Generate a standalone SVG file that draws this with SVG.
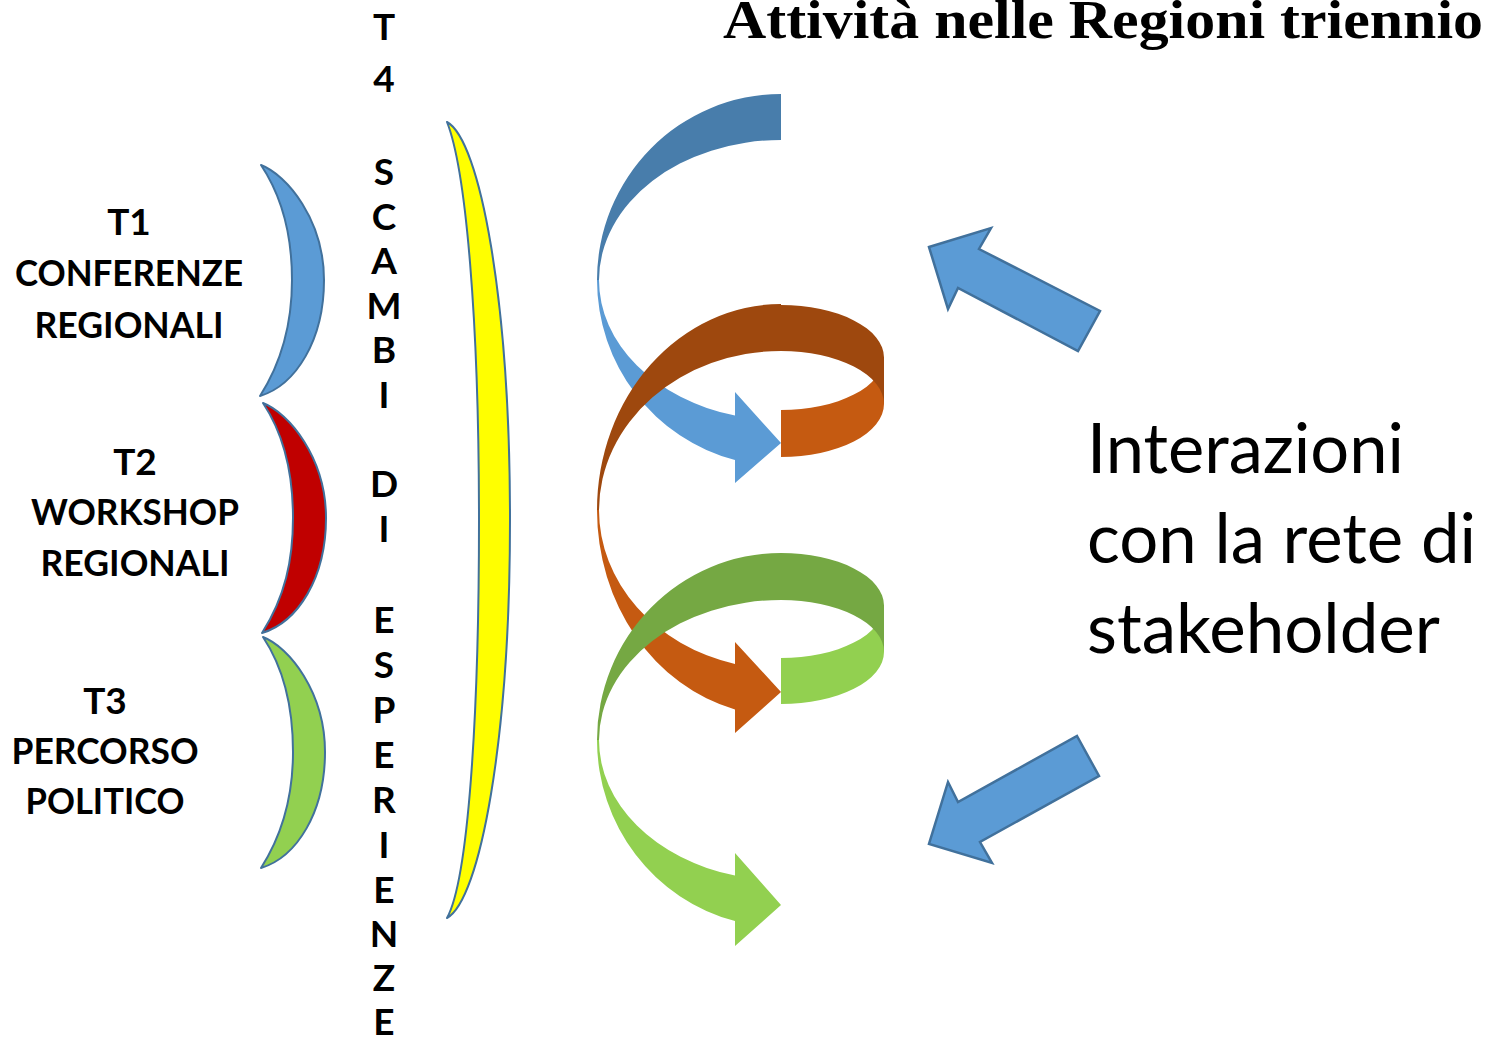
<svg xmlns="http://www.w3.org/2000/svg" width="1488" height="1037" viewBox="0 0 1488 1037">
<style>
.lbl{font-family:Lato,"Open Sans","Liberation Sans",sans-serif;font-weight:bold;font-size:37px;fill:#000;text-anchor:middle}
.vert{font-family:Lato,"Open Sans","Liberation Sans",sans-serif;font-weight:bold;font-size:37px;fill:#000;text-anchor:middle}
.big{font-family:Lato,"Open Sans","Liberation Sans",sans-serif;font-size:70px;fill:#000}
.title{font-family:"Liberation Serif","DejaVu Serif",serif;font-weight:bold;font-size:54px;fill:#000}
.brk{stroke:#41719C;stroke-width:2;stroke-linejoin:round}
.blk{fill:#5B9BD5;stroke:#41719C;stroke-width:2.5;stroke-linejoin:miter}
</style>
<rect width="1488" height="1037" fill="#FFFFFF"/>

<g id="title">
<text class="title" x="723" y="38" textLength="760" lengthAdjust="spacingAndGlyphs">Attività nelle Regioni triennio</text>
</g>

<g id="node-t1">
<path class="brk" fill="#5B9BD5" d="M261,165 C287,175 324,220 324,280 C324,340 296,385 260,396 C283,360 292,322 292,280 C292,238 283,198 261,165 Z"/>
<text class="lbl" x="129" y="235">T1</text>
<text class="lbl" x="129" y="286" textLength="228" lengthAdjust="spacingAndGlyphs">CONFERENZE</text>
<text class="lbl" x="129" y="338" textLength="189" lengthAdjust="spacingAndGlyphs">REGIONALI</text>
</g>

<g id="node-t2">
<path class="brk" fill="#C00000" d="M263,403 C289,413 326,458 326,518 C326,578 298,622 262,633 C285,597 293,560 293,518 C293,476 285,436 263,403 Z"/>
<text class="lbl" x="135" y="475">T2</text>
<text class="lbl" x="135" y="525" textLength="208" lengthAdjust="spacingAndGlyphs">WORKSHOP</text>
<text class="lbl" x="135" y="576" textLength="189" lengthAdjust="spacingAndGlyphs">REGIONALI</text>
</g>

<g id="node-t3">
<path class="brk" fill="#92D050" d="M263,637 C289,647 325,692 325,752 C325,812 297,857 261,868 C284,832 293,794 293,752 C293,710 285,670 263,637 Z"/>
<text class="lbl" x="105" y="714">T3</text>
<text class="lbl" x="105" y="764" textLength="187" lengthAdjust="spacingAndGlyphs">PERCORSO</text>
<text class="lbl" x="105" y="814" textLength="159" lengthAdjust="spacingAndGlyphs">POLITICO</text>
</g>

<g id="node-t4">
<path class="brk" fill="#FFFF00" d="M447,122 C480,140 510,300 510,520 C510,740 480,900 447,918 C468,880 479,720 479,520 C479,320 466,170 447,122 Z"/>
<text class="vert" x="384" y="40">T</text>
<text class="vert" x="384" y="92">4</text>
<text class="vert" x="384" y="185">S</text>
<text class="vert" x="384" y="230">C</text>
<text class="vert" x="384" y="274">A</text>
<text class="vert" x="384" y="319">M</text>
<text class="vert" x="384" y="363">B</text>
<text class="vert" x="384" y="408">I</text>
<text class="vert" x="384" y="497">D</text>
<text class="vert" x="384" y="542">I</text>
<text class="vert" x="384" y="633">E</text>
<text class="vert" x="384" y="678">S</text>
<text class="vert" x="384" y="723">P</text>
<text class="vert" x="384" y="768">E</text>
<text class="vert" x="384" y="813">R</text>
<text class="vert" x="384" y="858">I</text>
<text class="vert" x="384" y="903">E</text>
<text class="vert" x="384" y="947">N</text>
<text class="vert" x="384" y="991">Z</text>
<text class="vert" x="384" y="1035">E</text>
</g>

<g id="node-stakeholder">
<text class="big" x="1087" y="473" textLength="317" lengthAdjust="spacingAndGlyphs">Interazioni</text>
<text class="big" x="1087" y="563" textLength="389" lengthAdjust="spacingAndGlyphs">con la rete di</text>
<text class="big" x="1087" y="653" textLength="353" lengthAdjust="spacingAndGlyphs">stakeholder</text>
</g>

<g id="connectors">
<path fill="#487DAB" d="M781,94 A184,186 0 0 0 597,280 L599,280 A182,140 0 0 1 781,140 Z"/>
<path fill="#5B9BD5" d="M597,280 A184,186 0 0 0 735,460 L735,483 L781,443 L735,392 L735,415.5 A182,140 0 0 1 599,280 Z"/>
<path fill="#9E480E" d="M781,304 A184,206 0 0 0 597,510 L599,510 A182,159 0 0 1 781,351 Z"/>
<path fill="#C55A11" d="M597,510 A184,206 0 0 0 735,709.5 L735,733 L781,692 L735,642 L735,663.9 A182,159 0 0 1 599,510 Z"/>
<path fill="#C55A11" d="M781,410 A103,52.5 0 0 0 884,357.5 L884,404 A103,53 0 0 1 781,457 Z"/>
<path fill="#9E480E" d="M781,305 A103,52.5 0 0 1 884,357.5 L884,404 A103,53 0 0 0 781,351 Z"/>
<path fill="#75A843" d="M781,553 A184,187 0 0 0 597,740 L599,740 A182,140 0 0 1 781,600 Z"/>
<path fill="#92D050" d="M597,740 A184,187 0 0 0 735,921 L735,946 L781,905 L735,853 L735,875.5 A182,140 0 0 1 599,740 Z"/>
<path fill="#92D050" d="M781,658 A103,52.5 0 0 0 884,605.5 L884,652 A103,52 0 0 1 781,704 Z"/>
<path fill="#75A843" d="M781,553 A103,52.5 0 0 1 884,605.5 L884,652 A103,52 0 0 0 781,600 Z"/>
<path class="blk" d="M929,247 L991,228 L979,249 L1100,311 L1078,351 L958,288 L948,309 Z"/>
<path class="blk" d="M1077,736 L1099,776 L980,842 L992,863 L929,844 L948,782 L958,802 Z"/>
</g>
</svg>
